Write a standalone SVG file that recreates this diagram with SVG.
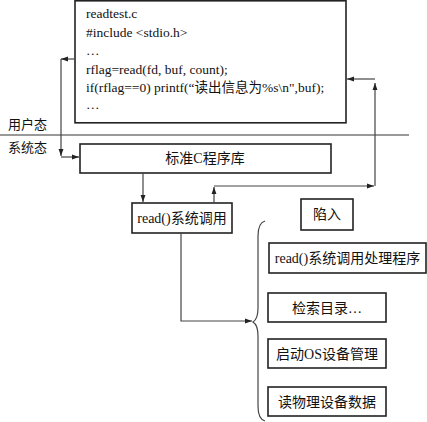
<svg xmlns="http://www.w3.org/2000/svg" width="427" height="422" viewBox="0 0 427 422">
<defs>
<marker id="ah" viewBox="0 0 10 10" refX="10" refY="5" markerWidth="7" markerHeight="7" markerUnits="userSpaceOnUse" orient="auto">
<path d="M0,1.5 L10,5 L0,8.5 Z" fill="#222"/>
</marker>
<style>
.box{fill:#fff;stroke:#222;stroke-width:1.6}
.t{font-family:"Liberation Serif","Noto Sans CJK SC",serif;font-size:13.5px;fill:#111}
.c{font-family:"Liberation Serif","Noto Sans CJK SC",serif;font-size:14px;fill:#111;text-anchor:middle}
.l{font-family:"Noto Sans CJK SC",sans-serif;font-size:13px;fill:#111}
.cn{fill:none;stroke:#444;stroke-width:1.2}
.sep{stroke:#999;stroke-width:2}
</style>
</defs>
<rect width="427" height="422" fill="#fff"/>
<line class="sep" x1="0" y1="135" x2="409" y2="135"/>
<text class="l" x="8" y="129">用户态</text>
<text class="l" x="8" y="152">系统态</text>
<g id="program">
<rect class="box" x="75" y="0.8" width="271" height="122"/>
<text class="t" x="86" y="18">readtest.c</text>
<text class="t" x="86" y="37">#include &lt;stdio.h&gt;</text>
<text class="t" x="86" y="55">…</text>
<text class="t" x="86" y="74">rflag=read(fd, buf, count);</text>
<text class="t" x="86" y="92">if(rflag==0) printf(“读出信息为%s\n",buf);</text>
<text class="t" x="86" y="109">…</text>
</g>
<g id="libc">
<rect class="box" x="80" y="144" width="251" height="29"/>
<text class="c" x="205" y="163">标准C程序库</text>
</g>
<g id="readcall">
<rect class="box" x="132" y="203" width="100" height="30"/>
<text class="c" x="182" y="223">read()系统调用</text>
</g>
<g id="trap">
<rect class="box" x="301" y="199" width="52" height="31"/>
<text class="c" x="327" y="219">陷入</text>
</g>
<g id="handler">
<rect class="box" x="269" y="243" width="157" height="30"/>
<text class="c" x="347.5" y="263">read()系统调用处理程序</text>
</g>
<g id="search">
<rect class="box" x="268" y="293" width="118" height="29"/>
<text class="c" x="327" y="313">检索目录…</text>
</g>
<g id="device">
<rect class="box" x="268" y="339" width="118" height="29"/>
<text class="c" x="327" y="359">启动OS设备管理</text>
</g>
<g id="readdata">
<rect class="box" x="268" y="387" width="118" height="29"/>
<text class="c" x="327" y="407">读物理设备数据</text>
</g>
<g id="connectors">
<path class="cn" d="M74,59 H61" marker-end="url(#ah)" />
<path class="cn" d="M61,59 V156" marker-end="url(#ah)"/>
<path class="cn" d="M61,157 H79" marker-end="url(#ah)"/>
<path class="cn" d="M143,173 V202" marker-end="url(#ah)"/>
<path class="cn" d="M214,203 V187" marker-end="url(#ah)"/>
<path class="cn" d="M214,186 H374" marker-end="url(#ah)"/>
<path class="cn" d="M375,186 V83" marker-end="url(#ah)"/>
<path class="cn" d="M375,79 H347" marker-end="url(#ah)"/>
<path class="cn" d="M181,233 V321 H252" marker-end="url(#ah)"/>
<path class="cn" d="M265,221 Q258,223 258,236 V308 Q258,319 253,322 Q258,325 258,336 V406 Q258,419 265,421"/>
</g>
</svg>
